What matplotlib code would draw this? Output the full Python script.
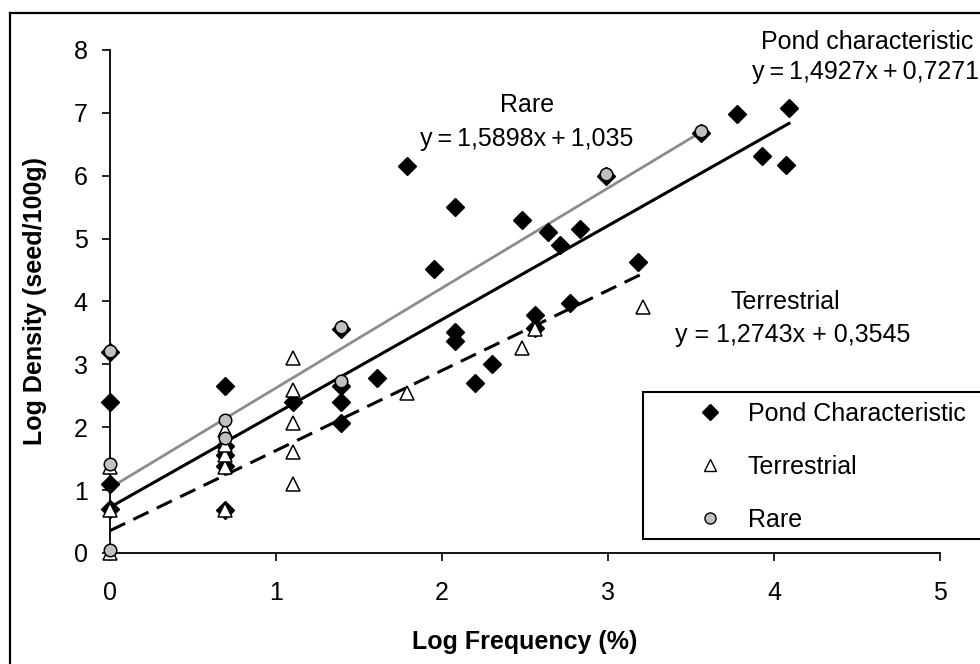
import matplotlib.pyplot as plt
from matplotlib.lines import Line2D
from matplotlib.patches import Rectangle
import numpy as np

plt.rcParams['font.family'] = ['Liberation Sans', 'DejaVu Sans']

# data
pond_x = [0, 0, 0, 0, 0.69, 0.69, 0.69, 0.69, 0.69, 1.10, 1.39, 1.39, 1.39, 1.39,
          1.61, 1.79, 1.95, 2.08, 2.08, 2.08, 2.20, 2.30, 2.48, 2.56, 2.56, 2.64,
          2.71, 2.77, 2.83, 2.99, 3.18, 3.56, 3.78, 3.93, 4.07, 4.09]
pond_y = [0.70, 1.10, 2.40, 3.20, 0.68, 1.38, 1.56, 1.70, 2.65, 2.40, 2.07, 2.40, 2.65, 3.57,
          2.78, 6.16, 4.52, 5.50, 3.52, 3.37, 2.70, 3.00, 5.30, 3.78, 3.58, 5.11,
          4.90, 3.97, 5.15, 6.00, 4.63, 6.68, 6.99, 6.32, 6.17, 7.08]

terr_x = [0, 0, 0, 0.69, 0.69, 0.69, 0.69, 0.69, 1.10, 1.10, 1.10, 1.10, 1.10,
          1.79, 2.48, 2.56, 3.21]
terr_y = [0.0, 0.68, 1.37, 0.68, 1.37, 1.56, 1.72, 1.96, 1.09, 1.60, 2.07, 2.59, 3.10,
          2.55, 3.26, 3.56, 3.92]

rare_x = [0, 0, 0, 0.69, 0.69, 1.39, 1.39, 2.99, 3.56]
rare_y = [0.04, 1.42, 3.21, 1.83, 2.12, 2.73, 3.59, 6.03, 6.71]

# fitted trend lines (slope, intercept, x end)
pond_fit = (1.4927, 0.7271, 4.09)
terr_fit = (1.2743, 0.3545, 3.21)
rare_fit = (1.5898, 1.035, 3.56)

FS = 18
sp = '\u2009'  # thin space, as in the excel equation labels

fig = plt.figure(figsize=(9.8, 6.64), dpi=100, facecolor='white')
ax = fig.add_axes([0.1122, 0.1672, 0.847, 0.7575])

# trend lines
xs = np.array([0, pond_fit[2]])
ax.plot(xs, pond_fit[0] * xs + pond_fit[1], color='black', lw=2.2, zorder=2)
xs = np.array([0, terr_fit[2]])
ax.plot(xs, terr_fit[0] * xs + terr_fit[1], color='black', lw=2.2,
        linestyle=(0, (5.5, 3)), zorder=2)
xs = np.array([0, rare_fit[2]])
ax.plot(xs, rare_fit[0] * xs + rare_fit[1], color='#8c8c8c', lw=2.0, zorder=2)

# points
ax.plot(pond_x, pond_y, 'D', ms=9, mfc='black', mec='black', ls='none',
        clip_on=False, zorder=3)
ax.plot(terr_x, terr_y, '^', ms=9.5, mfc='white', mec='black', mew=1.1, ls='none',
        clip_on=False, zorder=4)
ax.plot(rare_x, rare_y, 'o', ms=9, mfc='#c0c0c0', mec='black', mew=1.1, ls='none',
        clip_on=False, zorder=5)

ax.set_xlim(0, 5)
ax.set_ylim(0, 8)
ax.set_xticks(range(0, 6))
ax.set_yticks(range(0, 9))
ax.spines['top'].set_visible(False)
ax.spines['right'].set_visible(False)
for s in ['left', 'bottom']:
    ax.spines[s].set_linewidth(1.3)
ax.tick_params(direction='out', length=6, width=1.2, labelsize=FS)
ax.tick_params(axis='x', pad=14)
ax.tick_params(axis='y', pad=10)

ax.set_xlabel('Log Frequency (%)', fontsize=FS, fontweight='bold', labelpad=18)
ax.set_ylabel('Log Density (seed/100g)', fontsize=FS, fontweight='bold', labelpad=19)

# equations
ax.text(4.56, 8.13, 'Pond characteristic', fontsize=FS, ha='center', va='center')
ax.text(4.55, 7.65, f'y{sp}={sp}1,4927x{sp}+{sp}0,7271', fontsize=FS, ha='center', va='center')
ax.text(2.51, 7.12, 'Rare', fontsize=FS, ha='center', va='center')
ax.text(2.51, 6.58, f'y{sp}={sp}1,5898x{sp}+{sp}1,035', fontsize=FS, ha='center', va='center')
ax.text(4.07, 3.99, 'Terrestrial', fontsize=FS, ha='center', va='center')
ax.text(4.11, 3.47, 'y = 1,2743x + 0,3545', fontsize=FS, ha='center', va='center')

# legend with a frame that runs off the right edge
frame = Rectangle((0.642, 0.028), 0.6, 0.292, transform=ax.transAxes, fill=True,
                  facecolor='white', edgecolor='black', lw=1.5, clip_on=False, zorder=6)
ax.add_patch(frame)
handles = [
    Line2D([], [], marker='D', ms=8.5, mfc='black', mec='black', ls='none'),
    Line2D([], [], marker='^', ms=9, mfc='white', mec='black', mew=1, ls='none'),
    Line2D([], [], marker='o', ms=8, mfc='#c0c0c0', mec='black', mew=1, ls='none'),
]
leg = ax.legend(handles, ['Pond Characteristic', 'Terrestrial', 'Rare'],
                loc='upper left', bbox_to_anchor=(0.708, 0.300), frameon=False,
                fontsize=FS, handlelength=1, handletextpad=1.0, borderpad=0,
                borderaxespad=0, labelspacing=1.15)
leg.set_zorder(7)

# outer border of the figure
fig.add_artist(Line2D([10 / 980, 10 / 980], [0, 1 - 13 / 664], color='black', lw=1.6,
                      transform=fig.transFigure))
fig.add_artist(Line2D([10 / 980, 1], [1 - 13 / 664, 1 - 13 / 664], color='black', lw=1.6,
                      transform=fig.transFigure))

fig.savefig('out.png', dpi=100)
